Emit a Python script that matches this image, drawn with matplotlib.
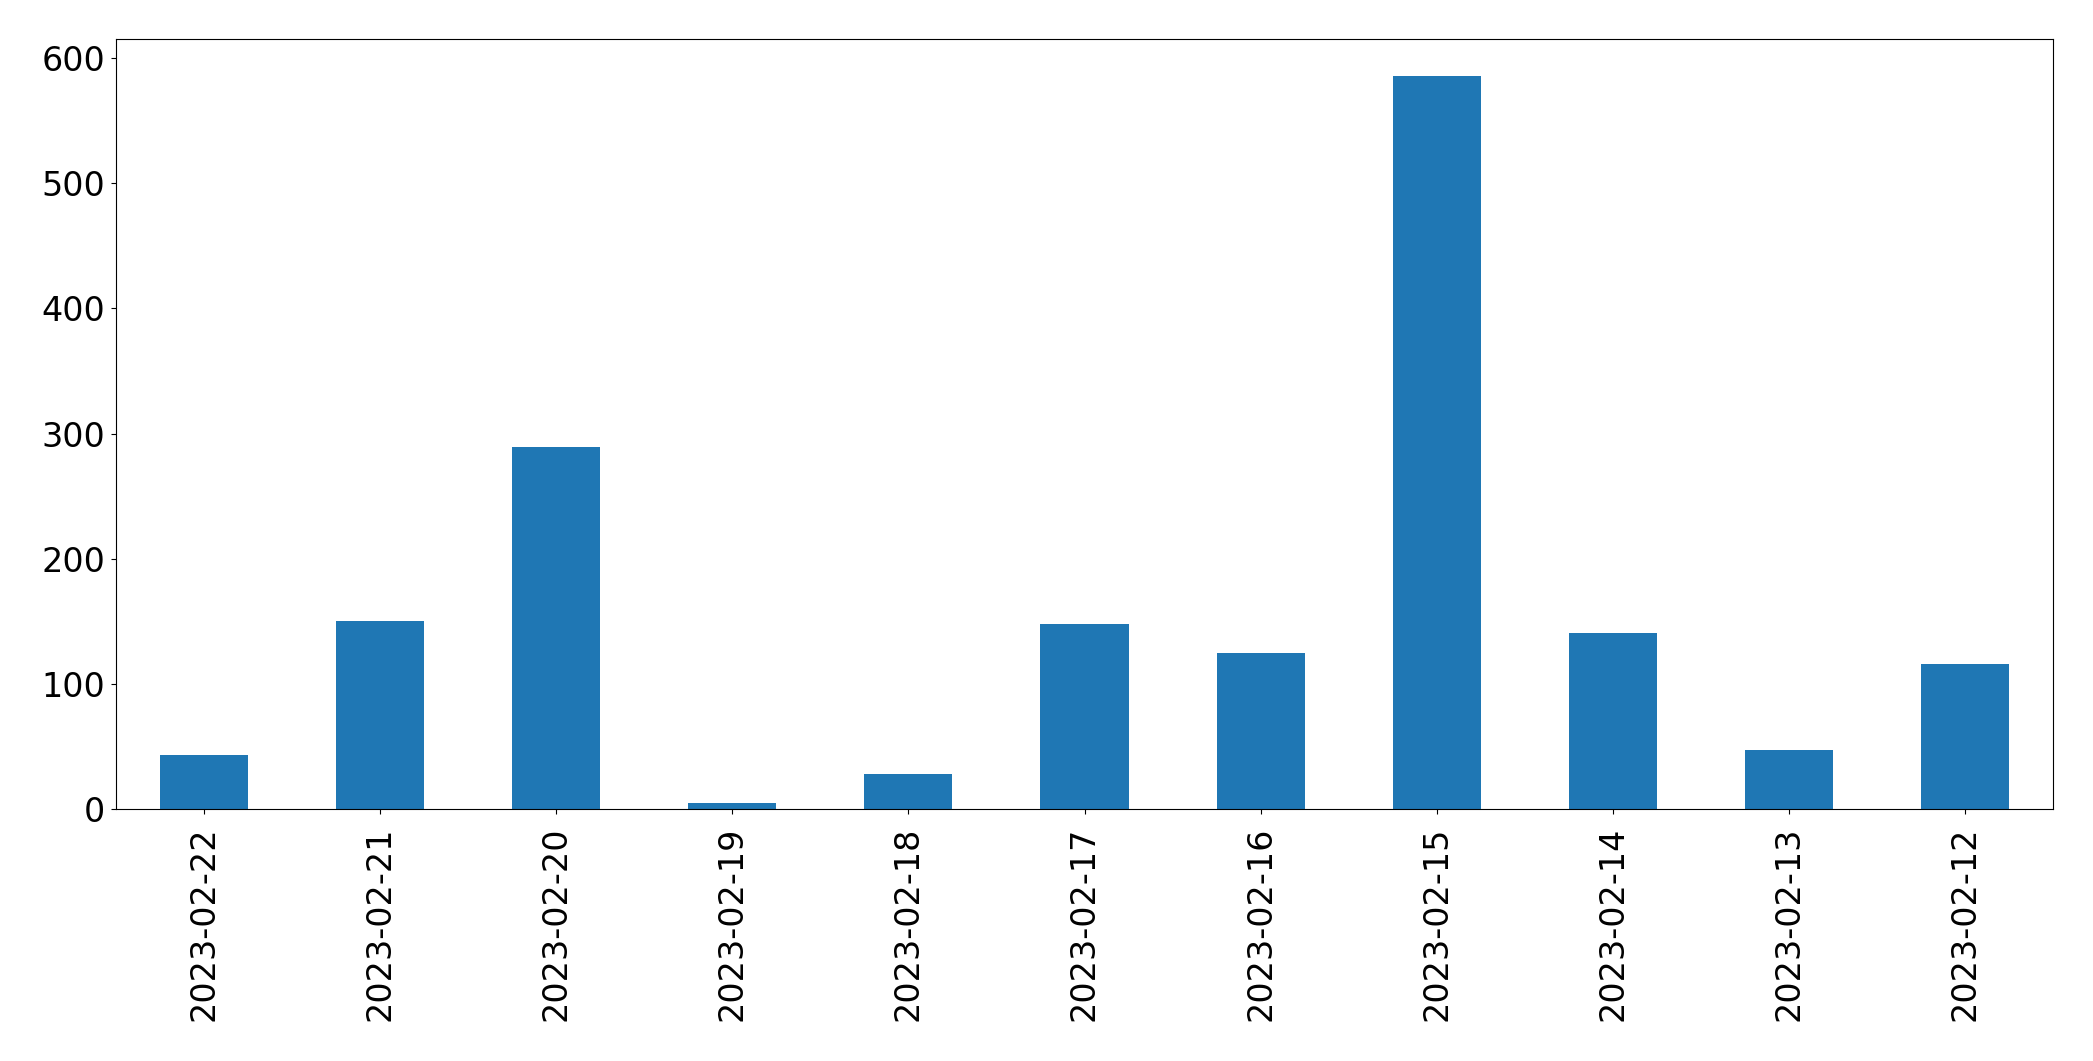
import matplotlib
matplotlib.use('Agg')
import matplotlib.pyplot as plt

# ── 데이터 ─────────────────────────────────────────────────
dates = ["2023-02-22", "2023-02-21", "2023-02-20", "2023-02-19", "2023-02-18",
         "2023-02-17", "2023-02-16", "2023-02-15", "2023-02-14", "2023-02-13",
         "2023-02-12"]
counts = [43, 150, 289, 5, 28, 148, 125, 586, 141, 47, 116]

# ── 차트 ─────────────────────────────────────────────────────
fig, ax = plt.subplots(figsize=(20.93, 10.61), dpi=100)
fig.subplots_adjust(left=116/2093, right=2053/2093, top=1 - 39/1061, bottom=1 - 809/1061)

x = range(len(dates))
ax.bar(x, counts, width=0.5, color="#1f77b4")
ax.set_xlim(-0.5, len(dates) - 0.5)
ax.set_xticks(list(x))
ax.set_xticklabels(dates, rotation=90)
ax.tick_params(axis='both', labelsize=24)
ax.tick_params(axis='x', pad=9)
ax.tick_params(axis='y', pad=4.5)

plt.savefig("out.png", dpi=100)
